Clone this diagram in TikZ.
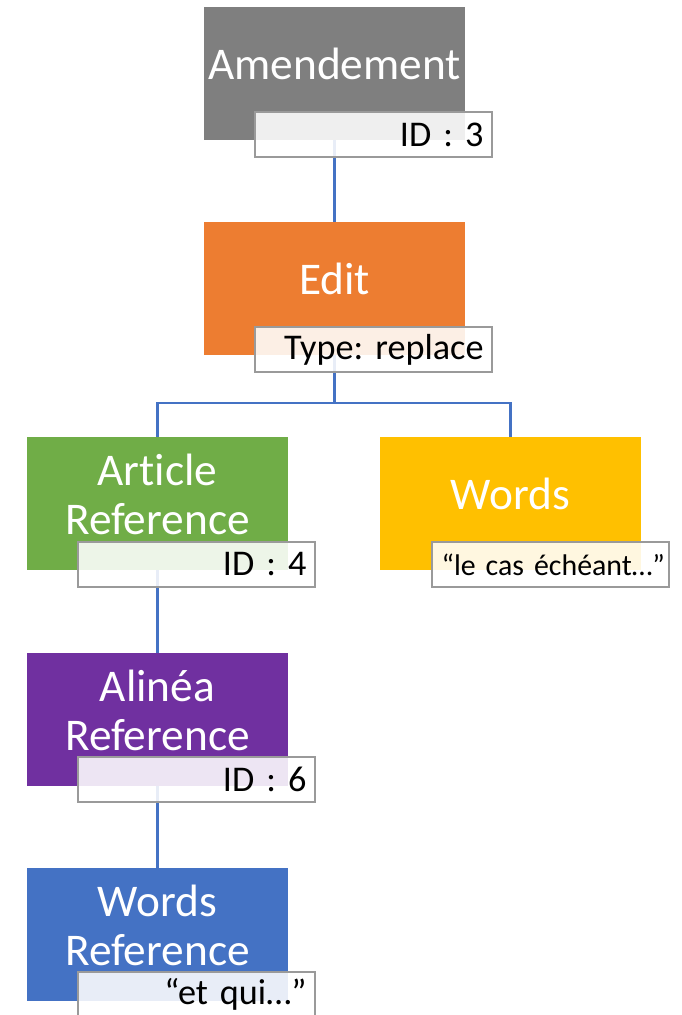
\documentclass[tikz,border=0pt]{standalone}
\usepackage{fontspec}
\setmainfont{Carlito}[Ligatures=NoCommon]
\definecolor{amendgray}{HTML}{7F7F7F}
\definecolor{editorange}{HTML}{ED7D31}
\definecolor{artgreen}{HTML}{70AD47}
\definecolor{wordsyellow}{HTML}{FFC000}
\definecolor{alpurple}{HTML}{7030A0}
\definecolor{wrefblue}{HTML}{4472C4}
\definecolor{linkblue}{HTML}{4472C4}
\definecolor{tagline}{HTML}{9A9A9A}
\frenchspacing
\begin{document}
\begin{tikzpicture}[x=0.02cm, y=-0.02cm,
    box/.style={minimum width=5.22cm, minimum height=2.66cm, inner sep=0pt},
    boxname/.style={text=white, font=\fontsize{25.8}{28}\selectfont, align=center},
    tag/.style={draw=tagline, line width=0.8pt, fill=white, fill opacity=0.88, text opacity=1,
        text width=4.4cm, align=right, inner xsep=0.17cm, inner ysep=0pt,
        minimum height=0.9cm, font=\fontsize{20.6}{24}\selectfont},
    link/.style={draw=linkblue, line width=1.5pt}]
    \useasboundingbox (0,0) rectangle (682,1015);
%boxes
    \node[box, fill=amendgray] (amend) at (334.5,73.5) {};
    \node[box, fill=editorange] (edit) at (334.5,288.5) {};
    \node[box, fill=artgreen] (artref) at (157.5,503.5) {};
    \node[box, fill=wordsyellow] (words) at (510.5,503.5) {};
    \node[box, fill=alpurple] (alref) at (157.5,719.5) {};
    \node[box, fill=wrefblue] (wref) at (157.5,934.5) {};
%links
    \coordinate (fork) at (334.5,403);
    \draw[link] (amend) -- (edit);
    \draw[link] (edit) -- (fork);
    \draw[link] (artref.north) |- (fork) -| (words.north);
    \draw[link] (artref) -- (alref);
    \draw[link] (alref) -- (wref);
%tags
    \node[tag] (amendid) at (373.5,134.5) {ID : 3};
    \node[tag] (edittype) at (373.5,349.5) {Type: replace};
    \node[tag] (artid) at (196.5,564.5) {ID : 4};
    \node[tag, text width=4.58cm, inner xsep=0.08cm, font=\fontsize{17}{20}\selectfont] (wordstext) at (550.5,564.5) {“le cas échéant…”};
    \node[tag] (alid) at (196.5,779.5) {ID : 6};
    \node[tag] (wreftext) at (196.5,994.5) {“et qui…”};
%names
    \node[boxname] (amendname) at ([yshift=0.2cm]amend.center) {Amendement};
    \node[boxname] (editname) at ([yshift=0.2cm]edit.center) {Edit};
    \node[boxname] (artname) at ([yshift=0.18cm]artref.center) {Article\\Reference};
    \node[boxname] (wordsname) at ([yshift=0.19cm]words.center) {Words};
    \node[boxname] (alname) at ([yshift=0.18cm]alref.center) {Alinéa\\Reference};
    \node[boxname] (wrefname) at ([yshift=0.18cm]wref.center) {Words\\Reference};
\end{tikzpicture}
\end{document}
